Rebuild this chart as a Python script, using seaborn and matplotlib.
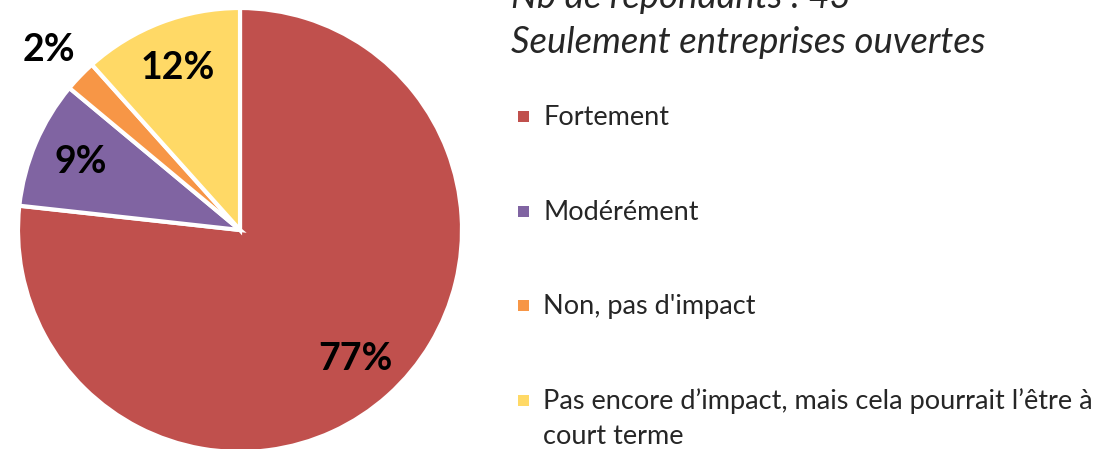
import seaborn as sns
import matplotlib.pyplot as plt
from matplotlib.patches import Rectangle

categories = ["Fortement", "Modérément", "Non, pas d'impact",
              "Pas encore d’impact, mais cela pourrait l’être à\ncourt terme"]
counts = [33, 4, 1, 5]
colors = ["#C0504D", "#8064A2", "#F79646", "#FFD966"]
title_lines = ["Nb de répondants : 43", "Seulement entreprises ouvertes"]

sns.set_theme(style="white")
plt.rcParams["font.family"] = ["Lato", "DejaVu Sans"]

W, H = 1117, 449
fig = plt.figure(figsize=(W / 100, H / 100), dpi=100)

# pie centre (240, 230) px from top-left, radius 222 px
cx, cy, r = 240, H - 230, 222
ax = fig.add_axes([(cx - r) / W, (cy - r) / H, 2 * r / W, 2 * r / H])

wedges, texts, autotexts = ax.pie(
    counts, colors=colors, startangle=90, counterclock=False,
    autopct=lambda p: f"{p:.0f}%", pctdistance=0.78,
    wedgeprops=dict(edgecolor="white", linewidth=3),
    textprops=dict(fontsize=27, fontweight="bold", color="black"),
)
# small slice label pushed outside, as in the original
for t, c in zip(autotexts, counts):
    if c / sum(counts) < 0.05:
        t.set_position((-0.86, 0.81))
ax.set_xlim(-1, 1)
ax.set_ylim(-1, 1)
ax.set_aspect("equal")
ax.axis("off")

# title (italic), top line partly cut off as in the original
fig.text(511 / W, 1 - 8 / H, title_lines[0], fontsize=26.3, style="italic",
         va="baseline", ha="left")
fig.text(511 / W, 1 - 53 / H, title_lines[1], fontsize=26.3, style="italic",
         va="baseline", ha="left")

# legend, drawn by hand to match the spacing of the original
line_px = 35
for i, (lab, col) in enumerate(zip(categories, colors)):
    yb = 125 + i * 94.5
    fig.add_artist(Rectangle((518 / W, 1 - (yb - 3) / H), 11 / W, 11 / H,
                             facecolor=col, edgecolor="none",
                             transform=fig.transFigure))
    # baseline alignment uses the last line, so shift multi-line labels down
    extra = lab.count("\n") * line_px
    fig.text(543 / W, 1 - (yb + extra) / H, lab, fontsize=19.5,
             va="baseline", ha="left", linespacing=1.45)

fig.savefig("out.png", dpi=100)
